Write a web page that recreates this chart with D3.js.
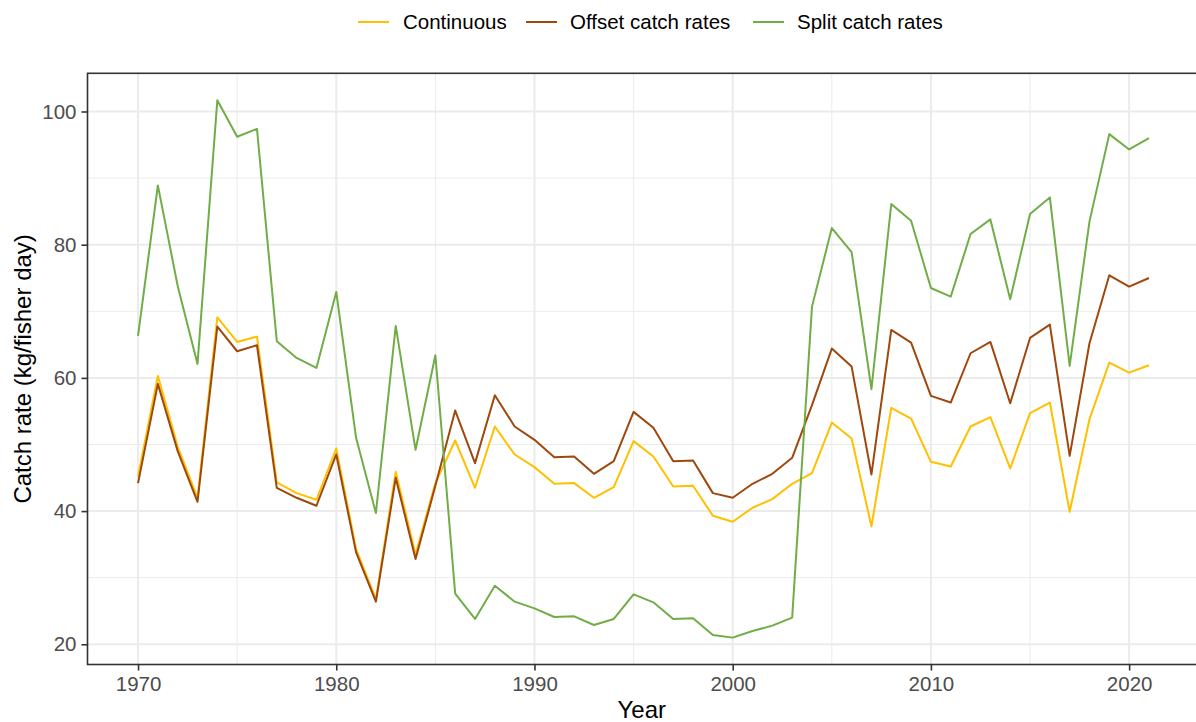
<!DOCTYPE html>
<html>
<head>
<meta charset="utf-8">
<script src="https://cdn.jsdelivr.net/npm/d3@7/dist/d3.min.js"></script>
<style>
  html, body { margin: 0; padding: 0; background: #fff; }
  svg { display: block; font-family: "Liberation Sans", Arial, sans-serif; }
</style>
</head>
<body>
<svg id="chart" width="1196" height="722"></svg>
<script>
const years = d3.range(1970, 2022);
const seriesNames = ["Continuous", "Offset catch rates", "Split catch rates"];
const seriesColors = ["#FFC000", "#9E480E", "#70AD47"];
const continuous = [45.2,60.3,49.7,42.0,69.1,65.4,66.2,44.3,42.7,41.7,49.4,34.3,26.8,45.9,33.5,44.2,50.6,43.5,52.7,48.5,46.6,44.1,44.2,42.0,43.6,50.5,48.2,43.7,43.8,39.3,38.4,40.5,41.8,44.1,45.7,53.3,50.9,37.7,55.5,53.9,47.4,46.7,52.7,54.1,46.4,54.7,56.3,39.9,53.8,62.3,60.8,61.9];
const offset = [44.2,59.1,49.0,41.4,67.7,64.0,64.9,43.5,42.0,40.8,48.5,33.8,26.4,45.0,32.8,43.8,55.1,47.2,57.4,52.7,50.7,48.1,48.2,45.6,47.5,54.9,52.5,47.5,47.6,42.7,42.0,44.1,45.6,48.0,55.9,64.4,61.7,45.5,67.2,65.3,57.3,56.3,63.7,65.4,56.2,66.0,68.0,48.3,65.2,75.4,73.7,75.0];
const split = [66.3,88.9,73.8,62.1,101.7,96.2,97.4,65.5,63.0,61.5,72.9,51.0,39.7,67.8,49.2,63.4,27.6,23.8,28.8,26.4,25.4,24.1,24.2,22.9,23.8,27.5,26.3,23.8,23.9,21.4,21.0,22.0,22.8,24.0,70.7,82.5,78.9,58.3,86.1,83.6,73.5,72.2,81.6,83.8,71.8,84.6,87.1,61.8,83.5,96.6,94.3,96.0];
const xTicks = [1970, 1980, 1990, 2000, 2010, 2020];
const xMinor = [1975, 1985, 1995, 2005, 2015];
const yTicks = [20, 40, 60, 80, 100];
const yMinor = [30, 50, 70, 90];

const seriesValues = [continuous, offset, split];

const svg = d3.select("#chart");
const panel = { left: 87.5, right: 1199.5, top: 73.3, bottom: 664.5 };

// ggplot-like 5% expansion
function expand(ext) { const r = ext[1] - ext[0]; return [ext[0] - 0.05 * r, ext[1] + 0.05 * r]; }
const xExt = expand(d3.extent(years));
const yExt = expand(d3.extent(seriesValues.flat()));

const x = d3.scaleLinear().domain(xExt).range([panel.left, panel.right]);
const y = d3.scaleLinear().domain(yExt).range([panel.bottom, panel.top]);

const g = svg.append("g");

// grid minor
g.selectAll(".ym").data(yMinor).enter().append("line")
  .attr("x1", panel.left).attr("x2", panel.right)
  .attr("y1", d => y(d)).attr("y2", d => y(d))
  .attr("stroke", "#EBEBEB").attr("stroke-width", 1);
g.selectAll(".xm").data(xMinor).enter().append("line")
  .attr("y1", panel.top).attr("y2", panel.bottom)
  .attr("x1", d => x(d)).attr("x2", d => x(d))
  .attr("stroke", "#EBEBEB").attr("stroke-width", 1);
// grid major
g.selectAll(".yM").data(yTicks).enter().append("line")
  .attr("x1", panel.left).attr("x2", panel.right)
  .attr("y1", d => y(d)).attr("y2", d => y(d))
  .attr("stroke", "#EBEBEB").attr("stroke-width", 2);
g.selectAll(".xM").data(xTicks).enter().append("line")
  .attr("y1", panel.top).attr("y2", panel.bottom)
  .attr("x1", d => x(d)).attr("x2", d => x(d))
  .attr("stroke", "#EBEBEB").attr("stroke-width", 2);

// lines
const line = d3.line().x((d, i) => x(years[i])).y(d => y(d));
seriesValues.forEach((vals, k) => {
  g.append("path").datum(vals)
    .attr("d", line)
    .attr("fill", "none")
    .attr("stroke", seriesColors[k])
    .attr("stroke-width", 2)
    .attr("stroke-linejoin", "round");
});

// panel border
g.append("rect")
  .attr("x", panel.left).attr("y", panel.top)
  .attr("width", panel.right - panel.left).attr("height", panel.bottom - panel.top)
  .attr("fill", "none").attr("stroke", "#333333").attr("stroke-width", 1.6);

// axes
const xAxis = d3.axisBottom(x).tickValues(xTicks).tickFormat(d3.format("d")).tickSize(6).tickPadding(5);
const yAxis = d3.axisLeft(y).tickValues(yTicks).tickSize(6).tickPadding(5);

const gx = svg.append("g").attr("transform", `translate(0,${panel.bottom})`).call(xAxis);
const gy = svg.append("g").attr("transform", `translate(${panel.left},0)`).call(yAxis);
[gx, gy].forEach(a => {
  a.select(".domain").remove();
  a.selectAll(".tick line").attr("stroke", "#333333").attr("stroke-width", 1.6);
  a.selectAll(".tick text").attr("fill", "#4D4D4D").style("font-size", "20.5px")
    .style("font-family", "'Liberation Sans', Arial, sans-serif");
});
gx.selectAll(".tick text").attr("dy", "0.78em");

// axis titles
svg.append("text")
  .attr("x", (panel.left + 1196) / 2).attr("y", 718)
  .attr("text-anchor", "middle").attr("fill", "#000")
  .style("font-size", "24px").text("Year");
svg.append("text")
  .attr("transform", `translate(31,${(panel.top + panel.bottom) / 2}) rotate(-90)`)
  .attr("text-anchor", "middle").attr("fill", "#000")
  .style("font-size", "24px").text("Catch rate (kg/fisher day)");

// legend
const legendItems = [
  { key: 358, text: 403 },
  { key: 526, text: 570 },
  { key: 753, text: 797 }
];
const ly = 22;
seriesNames.forEach((name, k) => {
  svg.append("line")
    .attr("x1", legendItems[k].key).attr("x2", legendItems[k].key + 31)
    .attr("y1", ly).attr("y2", ly)
    .attr("stroke", seriesColors[k]).attr("stroke-width", 2);
  svg.append("text")
    .attr("x", legendItems[k].text).attr("y", ly)
    .attr("dy", "0.35em").attr("fill", "#000")
    .style("font-size", "20.5px").text(name);
});
</script>
</body>
</html>
